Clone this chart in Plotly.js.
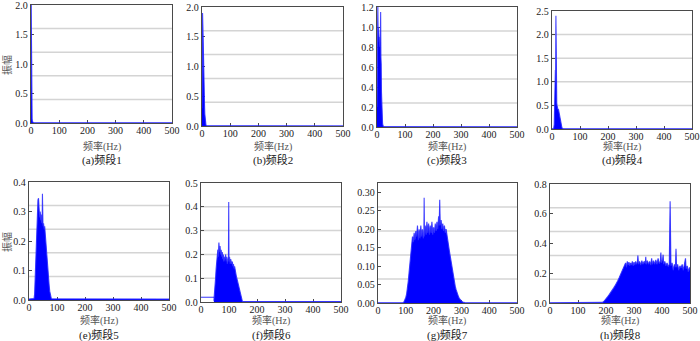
<!DOCTYPE html>
<html>
<head>
<meta charset="utf-8">
<script src="https://cdn.plot.ly/plotly-3.0.1.min.js"></script>
<style>html,body{margin:0;padding:0;background:#fff;}#chart{width:700px;height:341px;}</style>
</head>
<body>
<div id="chart"></div>
<script>
// ---- data (frequency in Hz, amplitude) ----
const f1 = [0, 0.4, 1, 2, 3, 4, 5, 6, 8, 12, 500];
const a1 = [2.4, 2.1, 0.45, 0.3, 0.15, 0.07, 0.03, 0.015, 0.008, 0.004, 0.003];

const f2 = [0, 1, 2, 3, 4, 5, 6, 7, 8, 9, 10, 12, 14, 16, 500];
const a2 = [0.3, 1.2, 1.9, 1.7, 1.5, 1.1, 0.9, 0.7, 0.5, 0.35, 0.2, 0.08, 0.02, 0.005, 0.002];

const f3 = [0,1,2,3,4,5,6,7,8,9,10,11,12,13,14,15,16,17,18,19,20,22,25,500];
const a3 = [0.2,0.6,0.9,1.2,0.95,1.0,0.9,0.95,0.85,0.9,0.8,0.85,0.9,1.15,0.7,0.63,0.35,0.2,0.12,0.06,0.03,0.01,0.005,0.002];

const f4 = [0,6,8,9,10,11,12,13,14,15,16,17,18,19,20,21,22,23,24,25,26,27,28,29,30,31,32,33,34,35,36,38,40,500];
const a4 = [0.005,0.01,0.1,0.3,0.6,0.9,1.25,1.0,2.4,0.85,0.7,0.55,0.5,0.45,0.42,0.44,0.4,0.42,0.38,0.36,0.32,0.3,0.26,0.22,0.2,0.16,0.12,0.09,0.06,0.04,0.02,0.01,0.005,0.003];

const f5 = [0,18,20,22,24,26,28,30,32,34,36,38,40,42,44,46,47,48,49,50,52,54,56,58,60,62,64,66,68,70,72,74,76,78,80,500];
const a5 = [0.003,0.005,0.02,0.08,0.16,0.24,0.30,0.33,0.34,0.345,0.31,0.28,0.30,0.27,0.29,0.26,0.27,0.36,0.27,0.25,0.26,0.24,0.25,0.22,0.20,0.18,0.15,0.12,0.10,0.07,0.05,0.03,0.015,0.008,0.004,0.003];

const f6low = [0, 47];
const a6low = [0.02, 0.02];
const f6 = [46,48,50,52,54,56,58,60,62,64,66,68,70,72,74,76,78,80,82,84,86,88,90,92,94,96,98,99,100,102,104,106,108,110,112,114,116,118,120,122,124,126,128,130,132,134,136,138,140,142,144,146,148,500];
const a6 = [0.005,0.03,0.06,0.10,0.14,0.17,0.20,0.22,0.19,0.25,0.21,0.235,0.20,0.22,0.19,0.21,0.18,0.20,0.17,0.19,0.18,0.20,0.17,0.19,0.16,0.18,0.19,0.42,0.17,0.19,0.16,0.18,0.17,0.16,0.17,0.15,0.16,0.14,0.15,0.13,0.12,0.11,0.10,0.09,0.08,0.07,0.06,0.05,0.04,0.03,0.015,0.005,0.002,0.002];

const f7 = [0,90,94,97,100,103,106,109,112,115,118,121,124,127,130,133,136,139,142,145,148,151,154,157,160,163,165,166,167,170,173,176,179,182,185,188,191,194,197,200,203,206,209,212,215,218,220,222,224,227,230,233,236,239,242,245,248,251,254,257,260,263,266,269,272,275,278,281,284,287,290,293,296,299,302,305,308,312,400,500];
const a7 = [0.0005,0.001,0.004,0.008,0.015,0.025,0.04,0.06,0.085,0.11,0.14,0.16,0.18,0.165,0.19,0.17,0.195,0.18,0.21,0.17,0.2,0.175,0.21,0.18,0.2,0.175,0.19,0.285,0.18,0.21,0.185,0.22,0.19,0.215,0.185,0.21,0.19,0.22,0.185,0.205,0.19,0.215,0.195,0.22,0.2,0.235,0.21,0.28,0.21,0.225,0.2,0.215,0.195,0.21,0.19,0.2,0.18,0.17,0.155,0.14,0.125,0.11,0.095,0.08,0.068,0.056,0.045,0.036,0.028,0.021,0.016,0.012,0.008,0.006,0.004,0.003,0.002,0.001,0.0005,0.0005];

const f8 = [0,100,180,187,192,197,202,207,212,217,222,227,232,237,242,247,252,257,262,267,270,273,276,279,282,285,288,291,294,297,300,303,306,309,312,314,316,320,324,328,332,336,340,342,344,348,352,356,360,363,366,370,374,378,382,386,390,394,396,398,402,404,406,410,414,418,422,426,429,432,436,440,444,448,450,452,456,460,464,468,472,476,480,484,486,490,494,498,500];
const a8 = [0.002,0.002,0.002,0.004,0.01,0.02,0.032,0.045,0.058,0.07,0.085,0.1,0.115,0.13,0.15,0.17,0.19,0.21,0.235,0.25,0.27,0.24,0.28,0.255,0.275,0.25,0.27,0.255,0.28,0.25,0.275,0.255,0.28,0.26,0.275,0.32,0.26,0.28,0.255,0.285,0.26,0.28,0.265,0.31,0.26,0.285,0.26,0.28,0.255,0.3,0.26,0.285,0.26,0.29,0.26,0.3,0.265,0.28,0.34,0.27,0.29,0.325,0.26,0.28,0.25,0.27,0.245,0.26,0.685,0.25,0.27,0.22,0.26,0.24,0.365,0.24,0.26,0.22,0.25,0.235,0.26,0.22,0.25,0.3,0.23,0.25,0.21,0.24,0.22];

const captions = ["(a)频段1","(b)频段2","(c)频段3","(d)频段4","(e)频段5","(f)频段6","(g)频段7","(h)频段8"];
const xTitle = "频率(Hz)";
const yTitle = "振幅";
const xTicks = [0,100,200,300,400,500];
const yRanges = [[0,2],[0,2],[0,1.2],[0,2.5],[0,0.4],[0,0.5],[0,0.325],[0,0.8]];
const yDticks = [0.5,0.5,0.2,0.5,0.1,0.1,0.05,0.2];
const yFormats = [".1f",".1f",".1f",".1f",".1f",".1f",".2f",".1f"];

// ---- layout geometry (pixels) ----
const W = 700, H = 341;
const boxes = [ // left, right, top, bottom
  [31,172,5,123],[202,343,7,126],[377,517,7,127],[552,692,11,129],
  [29,169,182,300],[201,341,183,302],[378,517,183,303],[550,690,184,303]
];
const FONT = "Liberation Serif, Noto Sans CJK SC, serif";
const BLUE = "#0000ff";

const series = [[f1,a1],[f2,a2],[f3,a3],[f4,a4],[f5,a5],[f6,a6],[f7,a7],[f8,a8]];
const data = [];
const layout = {
  width: W, height: H,
  margin: {l:0, r:0, t:0, b:0},
  paper_bgcolor: "#fff", plot_bgcolor: "#fff",
  showlegend: false,
  font: {family: FONT, size: 10, color: "#222"},
  shapes: [], annotations: []
};

series.forEach((s, i) => {
  const n = i + 1;
  const xa = n === 1 ? "x" : "x" + n;
  const ya = n === 1 ? "y" : "y" + n;
  data.push({
    type: "scatter", mode: "lines", x: s[0], y: s[1],
    xaxis: xa, yaxis: ya, fill: "tozeroy",
    fillcolor: BLUE, line: {color: "rgba(40,40,255,0.85)", width: 1.1},
    hoverinfo: "skip"
  });
  const [l, r, t, b] = boxes[i];
  const axStyle = {
    showline: true, linecolor: "#4a4a4a", linewidth: 1.3, mirror: true,
    ticks: "inside", ticklen: 3, tickcolor: "#4a4a4a", tickwidth: 1,
    showgrid: false, zeroline: false, layer: "below traces",
    ticklabeloverflow: "allow",
    tickfont: {family: FONT, size: 10, color: "#222"}
  };
  const yr = yRanges[i];
  layout["xaxis" + (n === 1 ? "" : n)] = Object.assign({}, axStyle, {
    domain: [l / W, r / W], anchor: ya, range: [0, 500],
    tickmode: "array", tickvals: xTicks, ticktext: xTicks.map(String),
    ticklabelstandoff: -2
  });
  layout["yaxis" + (n === 1 ? "" : n)] = Object.assign({}, axStyle, {
    domain: [1 - b / H, 1 - t / H], anchor: xa,
    range: [yr[0], yr[1] * 1.0005],
    dtick: yDticks[i], tick0: 0, tickformat: yFormats[i]
  });
  [0.2, 0.4, 0.6, 0.8].forEach(g => {
    layout.shapes.push({
      type: "line", xref: xa + " domain", yref: ya + " domain",
      x0: 0, x1: 1, y0: g, y1: g, layer: "below",
      line: {color: "#d4d4d4", width: 1.5}
    });
  });
  const cx = (l + r) / 2 / W;
  const titleY = i < 4 ? 146 : 320;
  const capY = i < 4 ? 160 : 335;
  layout.annotations.push({
    text: xTitle, xref: "paper", yref: "paper", x: cx, y: 1 - titleY / H,
    showarrow: false, xanchor: "center", yanchor: "middle",
    font: {family: FONT, size: 10, color: "#555"}
  });
  layout.annotations.push({
    text: captions[i], xref: "paper", yref: "paper", x: cx, y: 1 - capY / H,
    showarrow: false, xanchor: "center", yanchor: "middle",
    font: {family: FONT, size: 11, color: "#222"}
  });
});

data.push({
  type: "scatter", mode: "lines", x: f6low, y: a6low,
  xaxis: "x6", yaxis: "y6", line: {color: BLUE, width: 0.8}, hoverinfo: "skip"
});

[65, 242].forEach(yc => {
  layout.annotations.push({
    text: yTitle, xref: "paper", yref: "paper", x: 7 / W, y: 1 - yc / H,
    showarrow: false, textangle: -90, xanchor: "center", yanchor: "middle",
    font: {family: FONT, size: 10, color: "#555"}
  });
});

Plotly.newPlot("chart", data, layout, {staticPlot: true, displayModeBar: false});
</script>
</body>
</html>
